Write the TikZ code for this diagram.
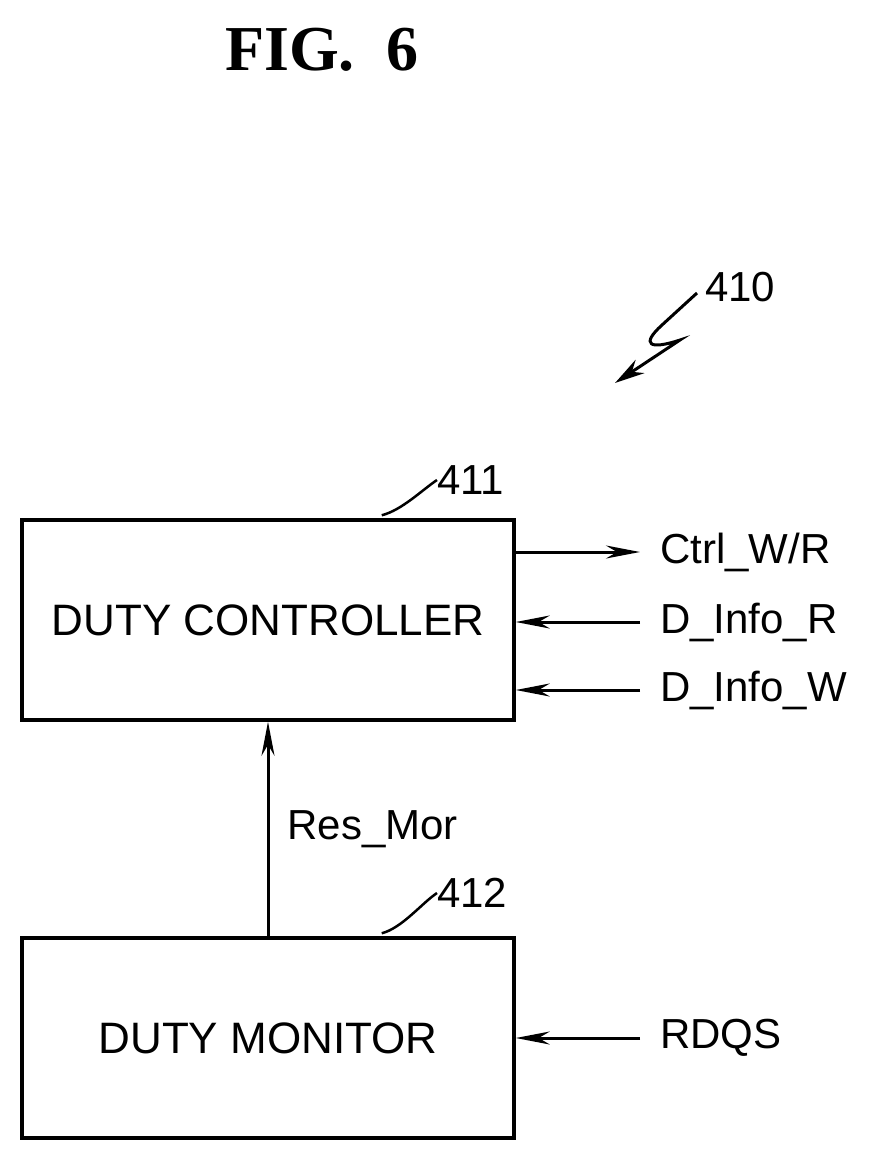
\documentclass[tikz,border=0pt]{standalone}
\usepackage{fontspec}
\setmainfont{Liberation Sans}
\newfontfamily\figfont{Liberation Serif}
\usetikzlibrary{arrows.meta,positioning}
\tikzset{
  block/.style={draw,line width=3.5pt,minimum width=492pt,minimum height=200pt,inner sep=0pt,font=\fontsize{44}{50}\selectfont},
  sig/.style={-{Stealth[length=34pt,width=13pt]},line width=3pt},
  lbl/.style={font=\fontsize{42}{48}\selectfont,inner sep=0pt},
  lead/.style={line width=2.5pt}
}
\begin{document}
\begin{tikzpicture}[x=1pt,y=-1pt]
        \useasboundingbox (0,0) rectangle (874,1163);
        % title
        \node[font=\figfont\bfseries\fontsize{64}{70}\selectfont] (title) at (322,50) {FIG.\ \ 6};
        % blocks
        \node[block] (ctrl) at (268,620) {DUTY CONTROLLER};
        \node[block] (mon) at (268,1038) {DUTY MONITOR};
        % reference numerals
        \node[lbl,anchor=west] (n410) at (705,287) {410};
        \node[lbl,anchor=west] (n411) at (437,480) {411};
        \node[lbl,anchor=west] (n412) at (437,893) {412};
        \draw[lead] (ctrl.north east) ++(-134,-3) .. controls +(20,-5) and +(-15,10) .. (n411.west);
        \draw[lead] (mon.north east) ++(-134,-3) .. controls +(20,-5) and +(-15,10) .. (n412.west);
        \coordinate (sq) at (615,383);
        \draw[line width=3pt,-{Stealth[length=30pt,width=16pt]}] (n410.west) ++(-8,6) -- (662,325)
            .. controls (640,345) and (650,350) .. (680,340) -- (sq);
        % signals
        \node[lbl,anchor=west] (cwr) at (660,552) {Ctrl\_W/R};
        \node[lbl,anchor=west] (dir) at (660,622) {D\_Info\_R};
        \node[lbl,anchor=west] (diw) at (660,690) {D\_Info\_W};
        \node[lbl,anchor=west] (rdqs) at (660,1038) {RDQS};
        \draw[sig] (ctrl.east |- cwr) -- ([xshift=-20pt]cwr.west);
        \draw[sig] ([xshift=-20pt]dir.west) -- (ctrl.east |- dir);
        \draw[sig] ([xshift=-20pt]diw.west) -- (ctrl.east |- diw);
        \draw[sig] ([xshift=-20pt]rdqs.west) -- (mon.east |- rdqs);
        \draw[sig] (mon.north) -- node[lbl,right=18pt] (res) {Res\_Mor} (ctrl.south);
\end{tikzpicture}
\end{document}
